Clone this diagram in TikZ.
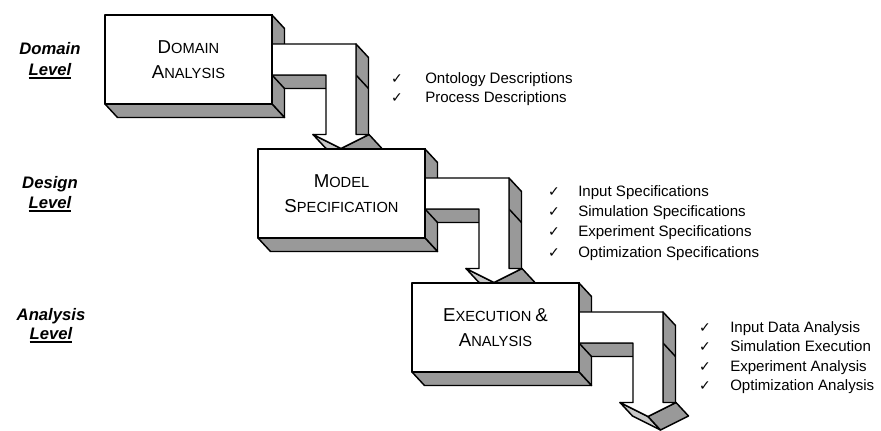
\documentclass[tikz,border=0pt]{standalone}
\usepackage{fontspec}
\setmainfont{Liberation Sans}
\newfontfamily\symfont{DejaVu Sans}
\definecolor{shadegray}{RGB}{153,153,153}
\definecolor{lightshade}{RGB}{200,200,200}
\newcommand\thickul[1]{\vtop{\hbox{#1}\kern1.2pt\hrule height 1.4pt}}
\newcommand\capfirst[2]{{\fontsize{14}{16}\selectfont #1}{\fontsize{11}{13}\selectfont #2}}
\newcommand\boxfaces{%
  \draw[face] (167,0) -- (179.5,13.5) -- (179.5,102.5) -- (167,89) -- cycle;
  \draw[face] (0,89) -- (167,89) -- (179.5,102.5) -- (12.5,102.5) -- cycle;
}
\newcommand\bentarrow{%
  \draw[face] (167,60) -- (221,60) -- (233.5,73.5) -- (179.5,73.5) -- cycle;
  \draw[face] (251,29) -- (263.5,42.5) -- (263.5,133) -- (251,119.5) -- cycle;
  \draw[edge] (251,60) -- (263.5,73.5);
  \draw[lightface] (208,119.5) -- (236,133.5) -- (248.5,147) -- (220.5,133) -- cycle;
  \draw[face] (264,119.5) -- (276.5,133) -- (248.5,147) -- (236,133.5) -- cycle;
  \fill[white] (167,29) -- (251,29) -- (251,119.5) -- (264,119.5) -- (236,133.5) -- (208,119.5) -- (221,119.5) -- (221,60) -- (167,60) -- cycle;
  \draw[edge] (167,29) -- (251,29) -- (251,119.5) -- (264,119.5) -- (236,133.5) -- (208,119.5) -- (221,119.5) -- (221,60) -- (167,60);
}
\begin{document}
\begin{tikzpicture}[x=0.75pt,y=-0.75pt,
  edge/.style={draw=black,line width=1.1pt,line join=round},
  face/.style={edge,fill=shadegray},
  lightface/.style={edge,fill=lightshade},
  boxfront/.style={edge,fill=white,minimum width=125.25pt,minimum height=66.75pt,inner sep=0pt,align=center,font=\fontsize{11}{18.75}\selectfont},
  lvl/.style={anchor=base,inner sep=0pt,font=\bfseries\itshape\fontsize{12.5}{14}\selectfont},
  item/.style={anchor=base west,inner sep=0pt,font=\fontsize{11.3}{13}\selectfont},
  chk/.style={anchor=base,inner sep=0pt,font=\symfont\fontsize{10.5}{12}\selectfont}]
\useasboundingbox (0,0) rectangle (881,430);

% level labels
\node[lvl] (d1) at (50,54) {Domain};
\node[lvl] (d2) at (50,75) {\thickul{Level}};
\node[lvl] (e1) at (50,188) {Design};
\node[lvl] (e2) at (50,208) {\thickul{Level}};
\node[lvl] (a1) at (51,320) {Analysis};
\node[lvl] (a2) at (51,339) {\thickul{Level}};

% stage 1
\begin{scope}[shift={(105,15)}]
  \boxfaces
  \node[boxfront] (b1) at (83.5,44.5) {\capfirst{D}{OMAIN}\\\capfirst{A}{NALYSIS}};
  \bentarrow
  \draw[edge] (b1.north east) -- (b1.south east);
\end{scope}

% stage 2
\begin{scope}[shift={(258,149)}]
  \boxfaces
  \node[boxfront] (b2) at (83.5,44.5) {\capfirst{M}{ODEL}\\\capfirst{S}{PECIFICATION}};
  \bentarrow
  \draw[edge] (b2.north east) -- (b2.south east);
\end{scope}

% stage 3
\begin{scope}[shift={(412,283)}]
  \boxfaces
  \node[boxfront] (b3) at (83.5,44.5) {\capfirst{E}{XECUTION} \capfirst{\&}{}\\\capfirst{A}{NALYSIS}};
  \bentarrow
  \draw[edge] (b3.north east) -- (b3.south east);
\end{scope}

% lists
\node[chk] (c11) at (397,83.5) {✓};
\node[item] (t11) at (425,83.5) {Ontology Descriptions};
\node[chk] (c12) at (397,102.5) {✓};
\node[item] (t12) at (425,102.5) {Process Descriptions};

\node[chk] (c21) at (554,196) {✓};
\node[item] (t21) at (578,196) {Input Specifications};
\node[chk] (c22) at (554,216) {✓};
\node[item] (t22) at (578,216) {Simulation Specifications};
\node[chk] (c23) at (554,236.5) {✓};
\node[item] (t23) at (578,236.5) {Experiment Specifications};
\node[chk] (c24) at (554,257) {✓};
\node[item] (t24) at (578,257) {Optimization Specifications};

\node[chk] (c31) at (705,332.5) {✓};
\node[item] (t31) at (730,332.5) {Input Data Analysis};
\node[chk] (c32) at (705,351.5) {✓};
\node[item] (t32) at (730,351.5) {Simulation Execution};
\node[chk] (c33) at (705,371) {✓};
\node[item] (t33) at (730,371) {Experiment Analysis};
\node[chk] (c34) at (705,390) {✓};
\node[item] (t34) at (730,390) {Optimization Analysis};
\end{tikzpicture}
\end{document}
